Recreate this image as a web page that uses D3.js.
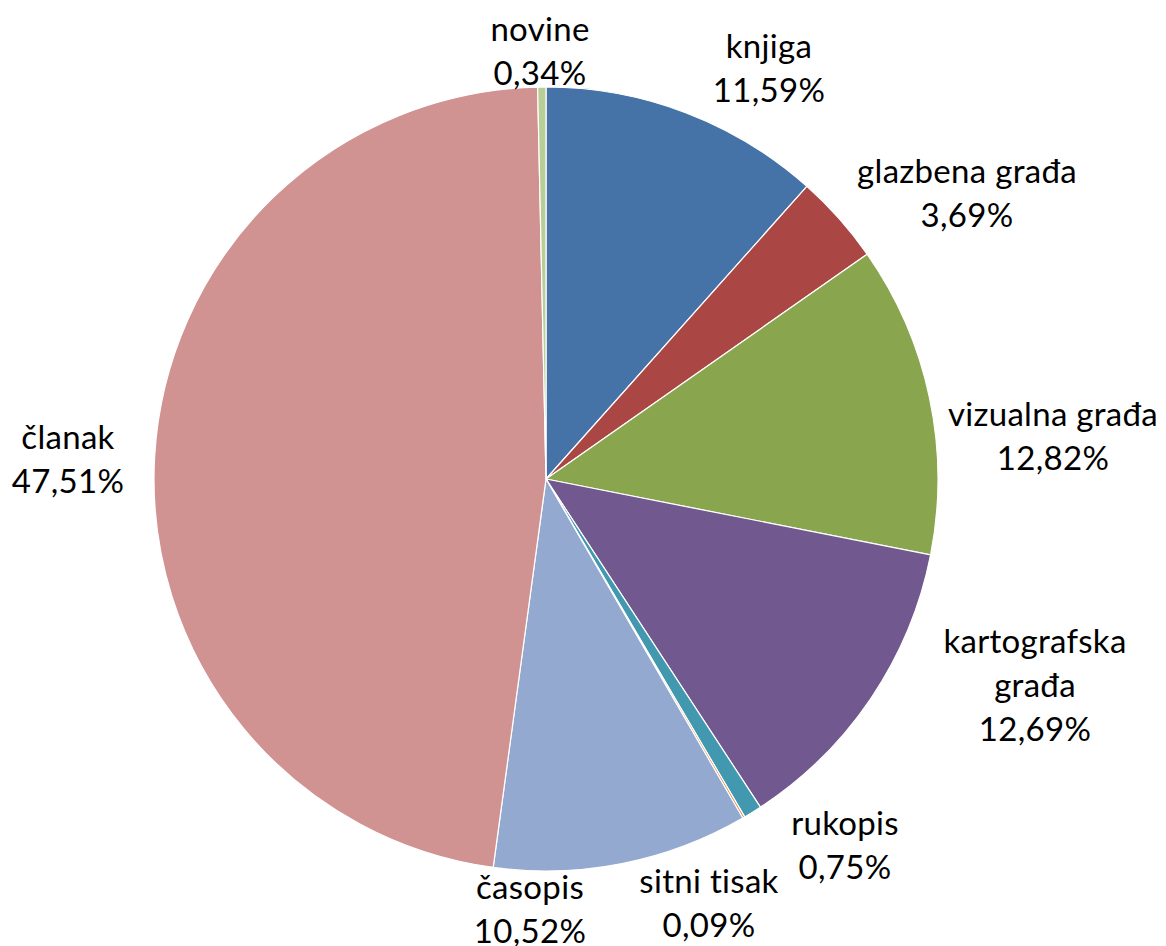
<!DOCTYPE html>
<html><head><meta charset="utf-8">
<script src="https://cdn.jsdelivr.net/npm/d3@7"></script>
<style>body{margin:0;background:#fff}svg{display:block}</style>
</head><body>
<svg id="c" width="1166" height="946"></svg>
<script>
const categories = ["knjiga","glazbena građa","vizualna građa","kartografska građa","rukopis","sitni tisak","časopis","članak","novine"];
const values = [11.59,3.69,12.82,12.69,0.75,0.09,10.52,47.51,0.34];
const colors = ["#4572A7","#AA4643","#89A54E","#71588F","#4198AF","#DB843D","#93A9CF","#D19392","#B9CD96"];
const labelLines = [["knjiga"],["glazbena građa"],["vizualna građa"],["kartografska","građa"],["rukopis"],["sitni tisak"],["časopis"],["članak"],["novine"]];
// label layout (centre of first line), in pixels
const labelPos = [[769,45],[967,170],[1053,413],[1035,640],[845,822],[709,880],[530,886],[68,436],[540,28]];

const svg = d3.select("#c");
const cx = 546, cy = 479, r = 392;
const fmt = v => v.toFixed(2).replace(".", ",") + "%";
const pie = d3.pie().sort(null).value(d => d)(values);
const arc = d3.arc().innerRadius(0).outerRadius(r);
const g = svg.append("g").attr("transform", `translate(${cx},${cy})`);
g.selectAll("path").data(pie).join("path")
  .attr("d", arc).attr("fill", (d,i) => colors[i])
  .attr("stroke", "#fff").attr("stroke-width", 1.2).attr("stroke-linejoin","round");

const lh = 44;
labelPos.forEach((p, i) => {
  const lines = labelLines[i].concat([fmt(values[i])]);
  const t = svg.append("text").attr("font-family", "Lato, 'Open Sans', sans-serif")
    .attr("font-size", 33).attr("letter-spacing", 0.3).attr("fill", "#000").attr("text-anchor", "middle");
  lines.forEach((s, k) => {
    t.append("tspan").attr("x", p[0]).attr("y", p[1] + k*lh).attr("dominant-baseline","central").text(s);
  });
});
</script>
</body></html>
